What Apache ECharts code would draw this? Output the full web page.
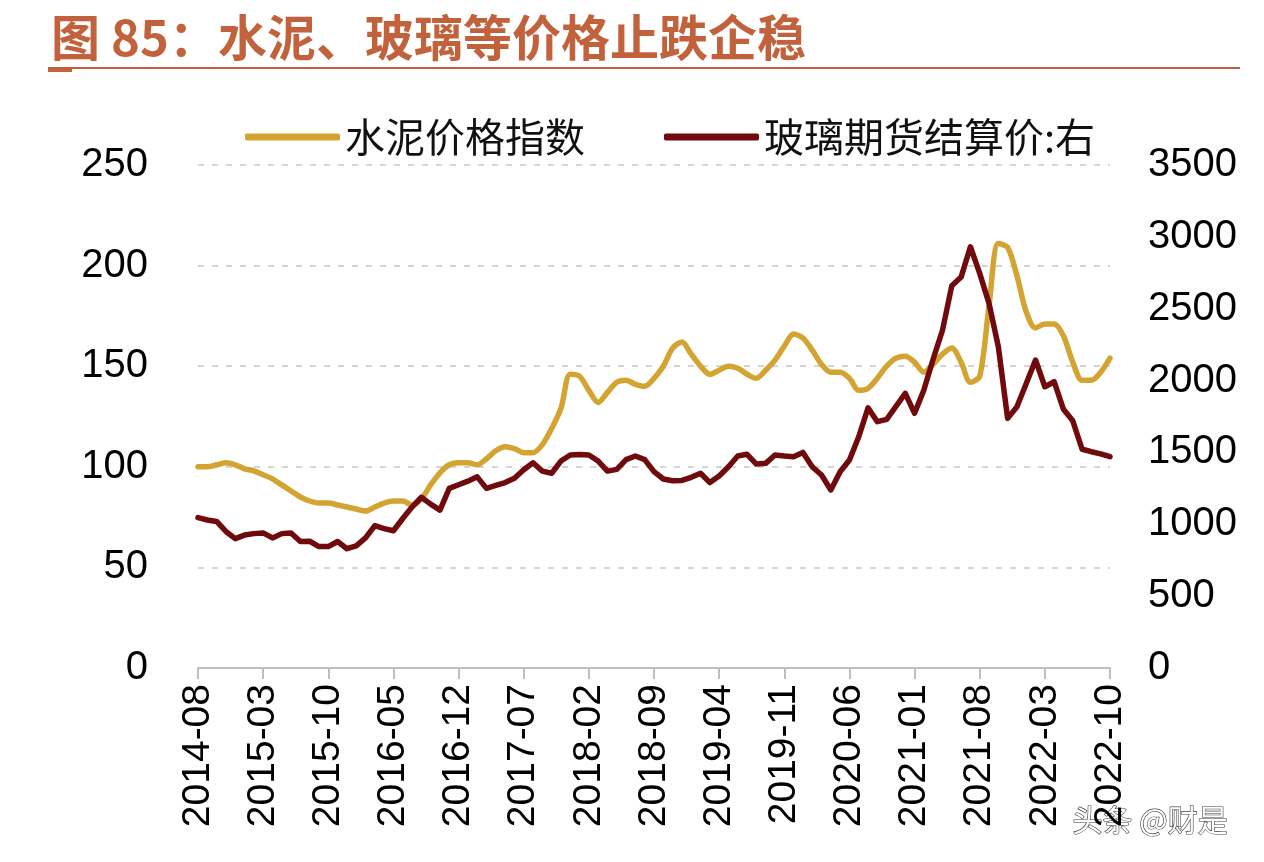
<!DOCTYPE html>
<html>
<head>
<meta charset="utf-8">
<script src="https://cdn.jsdelivr.net/npm/echarts@6/dist/echarts.min.js"></script>
<style>
html,body{margin:0;padding:0;background:#fff;}
#chart{width:1264px;height:862px;}
</style>
</head>
<body>
<div id="chart"></div>
<script>
const months = [
 '2014-08','2014-09','2014-10','2014-11','2014-12',
 '2015-01','2015-02','2015-03','2015-04','2015-05','2015-06','2015-07','2015-08','2015-09','2015-10','2015-11','2015-12',
 '2016-01','2016-02','2016-03','2016-04','2016-05','2016-06','2016-07','2016-08','2016-09','2016-10','2016-11','2016-12',
 '2017-01','2017-02','2017-03','2017-04','2017-05','2017-06','2017-07','2017-08','2017-09','2017-10','2017-11','2017-12',
 '2018-01','2018-02','2018-03','2018-04','2018-05','2018-06','2018-07','2018-08','2018-09','2018-10','2018-11','2018-12',
 '2019-01','2019-02','2019-03','2019-04','2019-05','2019-06','2019-07','2019-08','2019-09','2019-10','2019-11','2019-12',
 '2020-01','2020-02','2020-03','2020-04','2020-05','2020-06','2020-07','2020-08','2020-09','2020-10','2020-11','2020-12',
 '2021-01','2021-02','2021-03','2021-04','2021-05','2021-06','2021-07','2021-08','2021-09','2021-10','2021-11','2021-12',
 '2022-01','2022-02','2022-03','2022-04','2022-05','2022-06','2022-07','2022-08','2022-09','2022-10'
];

const cementIndex = [
 100,100,101,102,101,99,98,96,94,91,
 88,85,83,82,82,81,80,79,78,80,
 82,83,83,81,84,91,97,101,102,102,
 101,104,108,110,109,107,107,111,119,129,
 146,145,138,132,137,142,143,141,140,144,
 150,159,162,156,150,146,148,150,149,146,
 144,148,153,160,166,164,158,151,147,147,
 144,138,139,144,150,154,155,152,147,151,
 156,159,152,142,145,180,211,209,195,177,
 169,171,171,165,152,143,143,147,154
];

const glassFutures = [
 1046,1030,1020,950,900,925,935,940,905,935,
 940,880,882,845,845,880,830,850,905,990,
 970,955,1040,1120,1188,1140,1099,1250,1275,1300,
 1330,1250,1270,1290,1320,1380,1428,1370,1355,1440,
 1482,1485,1482,1440,1370,1382,1450,1475,1450,1366,
 1315,1303,1305,1327,1355,1290,1336,1400,1475,1487,
 1419,1424,1482,1475,1470,1500,1400,1343,1239,1366,
 1447,1609,1810,1714,1730,1820,1911,1772,1934,2150,
 2350,2660,2720,2931,2746,2537,2236,1737,1818,1980,
 2143,1957,1992,1800,1720,1522,1505,1490,1470
];

const leftTicks = [0, 50, 100, 150, 200, 250];
const rightTicks = [0, 500, 1000, 1500, 2000, 2500, 3000, 3500];

const seriesNames = ['水泥价格指数', '玻璃期货结算价:右'];
const titleText = '图 85：水泥、玻璃等价格止跌企稳';
const watermark = '头条 @财是';

const titleColor = '#C2623C';
const numFont = 'Liberation Sans, Arial, sans-serif';
const cjkFont = 'Noto Sans CJK SC';

const chart = echarts.init(document.getElementById('chart'));
chart.setOption({
  backgroundColor: '#fff',
  animation: false,
  title: {
    text: titleText,
    left: 46, top: 8,
    textStyle: {fontFamily: cjkFont, fontSize: 49, fontWeight: 'bold', color: titleColor}
  },
  graphic: [
    {type: 'rect', shape: {x: 48, y: 67, width: 1192, height: 2}, style: {fill: titleColor}},
    {type: 'rect', shape: {x: 48, y: 67, width: 24, height: 5}, style: {fill: titleColor}},
    {type: 'text', left: 1072, top: 804,
     style: {text: watermark, fontSize: 30, fontFamily: cjkFont, fill: '#ffffff', stroke: '#3a3a3a', lineWidth: 1.2}}
  ],
  legend: [
    {data: [seriesNames[0]], left: 240, top: 112, icon: 'roundRect', itemWidth: 95, itemHeight: 7, itemGap: 8,
     textStyle: {fontFamily: cjkFont, fontSize: 40, color: '#111'}},
    {data: [seriesNames[1]], left: 659, top: 112, icon: 'roundRect', itemWidth: 95, itemHeight: 7, itemGap: 8,
     textStyle: {fontFamily: cjkFont, fontSize: 40, color: '#111'}}
  ],
  grid: {left: 198, right: 154, top: 165, bottom: 194, containLabel: false},
  xAxis: {
    type: 'category',
    data: months,
    boundaryGap: false,
    axisLine: {show: true, lineStyle: {color: '#bfbfbf', width: 2}},
    axisTick: {show: true, interval: 6, length: 11, lineStyle: {color: '#bfbfbf', width: 2}},
    axisLabel: {interval: 6, rotate: 90, margin: 16, fontSize: 39, fontFamily: numFont, color: '#000'},
    splitLine: {show: false}
  },
  yAxis: [
    {
      type: 'value', min: leftTicks[0], max: leftTicks[leftTicks.length - 1], interval: 50,
      axisLine: {show: false}, axisTick: {show: false},
      axisLabel: {margin: 50, fontSize: 40, fontFamily: numFont, color: '#000', formatter: v => String(v)},
      splitLine: {show: true, lineStyle: {color: '#c8c8c8', type: [6, 8], width: 1.5}}
    },
    {
      type: 'value', min: rightTicks[0], max: rightTicks[rightTicks.length - 1], interval: 500,
      axisLine: {show: false}, axisTick: {show: false},
      axisLabel: {margin: 38, fontSize: 40, fontFamily: numFont, color: '#000', formatter: v => String(v)},
      splitLine: {show: false}
    }
  ],
  series: [
    {
      name: seriesNames[0], type: 'line', yAxisIndex: 0, data: cementIndex,
      showSymbol: false, smooth: 0.3,
      lineStyle: {color: '#D4A432', width: 5.5, cap: 'round', join: 'round'},
      itemStyle: {color: '#D4A432'}
    },
    {
      name: seriesNames[1], type: 'line', yAxisIndex: 1, data: glassFutures,
      showSymbol: false, smooth: false,
      lineStyle: {color: '#700A0C', width: 5.5, cap: 'round', join: 'round'},
      itemStyle: {color: '#700A0C'}
    }
  ]
});
</script>
</body>
</html>
